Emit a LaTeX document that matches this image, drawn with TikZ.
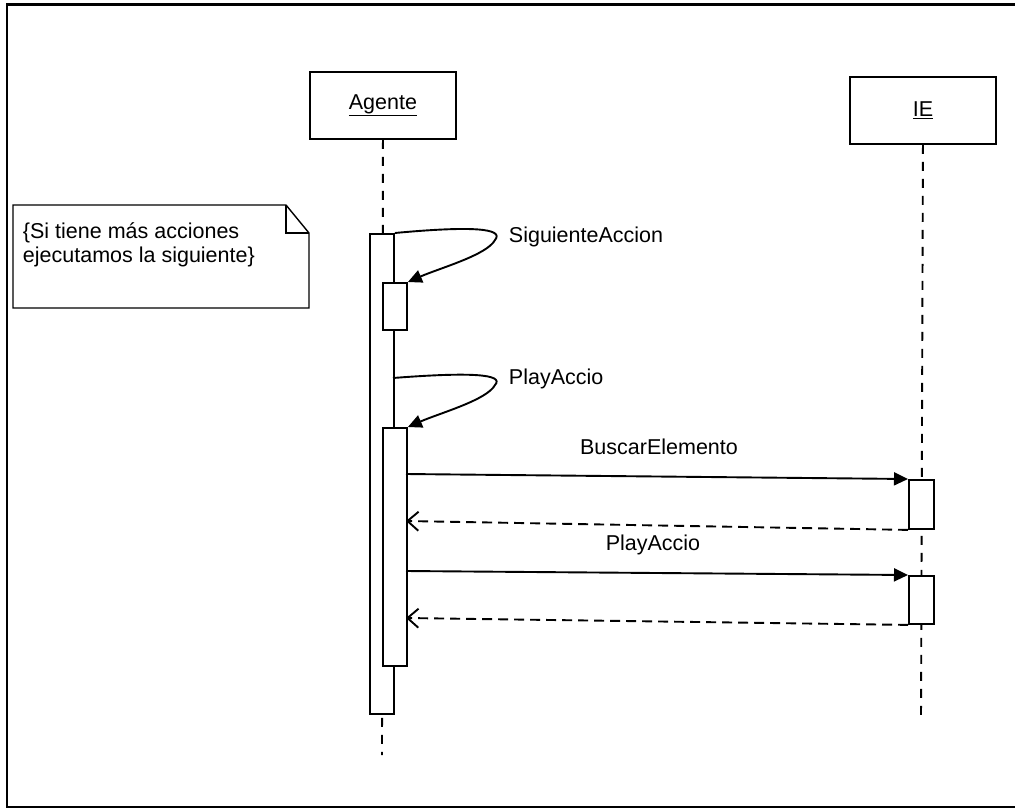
\documentclass[tikz,border=0pt]{standalone}
\usepackage{fontspec}
\setmainfont{Liberation Sans}
\usetikzlibrary{arrows.meta,calc}
\begin{document}
\begin{tikzpicture}[x=1pt,y=-1pt,line width=1.9pt,
  lbl/.style={font=\fontsize{21.5}{24}\selectfont,inner sep=0pt},
  objbox/.style={draw,lbl,minimum width=146pt,minimum height=67pt,anchor=north west},
  actbox/.style={draw,fill=white,minimum width=24pt,anchor=north west,inner sep=0pt},
  lifeline/.style={dash pattern=on 9pt off 8pt},
  call/.style={-{Triangle[length=14pt,width=13pt]}},
  reply/.style={dash pattern=on 10pt off 6pt,-{Straight Barb[length=11pt,width=19pt]}}]
\useasboundingbox (0,0) rectangle (1015,809);

% frame
\draw[line width=2.8pt] (1015,4.5) -- (7,4.5) -- (7,807) -- (1015,807);

% objects
\node[objbox] (agente) at (309,71) {\underline{Agente}};
\node[objbox] (ie) at (849,76) {\underline{IE}};

% lifelines
\coordinate (agenteEnd) at (382,755);
\coordinate (ieEnd) at (921,720);
\draw[lifeline] (agente.south) -- (agenteEnd);
\draw[lifeline] (ie.south) -- (ieEnd);

% note
\draw[line width=1.4pt] (13,205) -- (286,205) -- (309,233) -- (309,308) -- (13,308) -- cycle;
\draw[line width=1.4pt] (286,205) -- (286,233) -- (309,233);
\node[lbl,anchor=north west,align=left] (note) at (22,222)
  {\{Si tiene más acciones\\ejecutamos la siguiente\}};

% activations
\node[actbox,minimum height=480pt] (a0) at (369,233) {};
\node[actbox,minimum height=47pt] (a1) at (382,282) {};
\node[actbox,minimum height=238pt] (a2) at (382,427) {};
\node[actbox,minimum width=25pt,minimum height=49pt] (i1) at (908,479) {};
\node[actbox,minimum width=25pt,minimum height=48pt] (i2) at (908,575) {};

% self calls
\draw[call] (a0.north east) .. controls (470,226) and (505,228) .. (495,240)
  .. controls (487,255) and (440,268) .. (a1.north east);
\node[lbl,anchor=west] (lSig) at (508,237) {SiguienteAccion};

\coordinate (s2) at (393,378);
\draw[call] (s2) .. controls (470,372) and (505,374) .. (495,385)
  .. controls (487,400) and (440,413) .. (a2.north east);
\node[lbl,anchor=west] (lPlay1) at (508,379) {PlayAccio};

% calls to IE and replies
\coordinate (m1) at (406,474);
\coordinate (r1) at (406,521);
\coordinate (m2) at (406,571);
\coordinate (r2) at (406,618);
\draw[call] (m1) -- (i1.north west);
\node[lbl] (lBus) at (659,447) {BuscarElemento};
\draw[reply] (i1.south west) -- (r1);
\draw[call] (m2) -- (i2.north west);
\node[lbl] (lPlay2) at (653,545) {PlayAccio};
\draw[reply] (i2.south west) -- (r2);
\end{tikzpicture}
\end{document}
